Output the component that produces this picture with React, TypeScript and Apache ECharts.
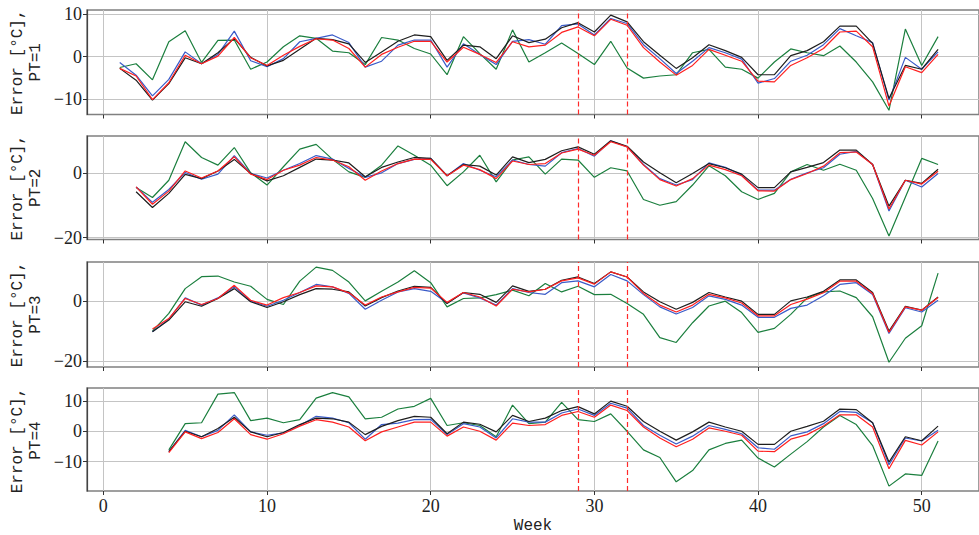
import React, { useEffect, useRef } from "react";
import * as echarts from "echarts";

// ---- data ----
const START_WEEKS = [1, 2, 3, 4];
const PT_LABELS = ["PT=1", "PT=2", "PT=3", "PT=4"];
const X_TICKS = [0, 10, 20, 30, 40, 50];
const Y_TICKS = [[-10, 0, 10], [-20, 0], [-20, 0], [-10, 0, 10]];
const Y_RANGES = [[-13.7, 11.0], [-20.6, 11.7], [-22, 13.1], [-19.6, 14.2]];
const EVENT_WEEKS = [29, 32];

const blue1 = [-1.4,-4.4,-9.3,-5.4,1.1,-1.7,0.5,6.0,-1.0,-2.4,-0.5,3.5,4.3,5.1,3.3,-2.5,-1.1,2.7,3.9,3.9,-2.5,3.0,0.5,-1.9,3.6,4.0,2.9,7.3,7.7,5.1,9.0,7.8,2.8,-0.5,-4.0,-1.1,2.1,0.9,-0.6,-6.3,-5.2,-1.1,0.3,2.8,6.6,4.9,3.3,-10.3,-0.2,-3.0,1.1];
const red1 = [-2.8,-4.6,-10.2,-6.2,0.3,-1.7,0.1,4.5,-0.3,-2.1,0.3,2.4,4.2,3.9,1.9,-2.5,0.5,2.2,3.6,3.6,-1.3,2.2,0.5,-1.4,3.5,2.3,2.7,5.7,7.0,4.9,8.8,7.4,2.1,-1.3,-4.4,-2.1,1.7,0.3,-1.1,-5.8,-6.0,-2.1,-0.3,1.9,5.8,6.0,2.3,-11.7,-2.4,-3.8,0.5];
const black1 = [-2.8,-5.6,-10.3,-6.4,-0.3,-1.7,0.9,4.3,-0.2,-2.2,-0.9,1.7,4.3,4.0,3.0,-1.4,1.1,3.6,5.1,4.7,-0.9,2.7,2.3,-0.5,4.9,3.3,4.1,6.8,8.0,5.8,9.8,8.2,3.5,0.3,-2.8,-0.3,2.8,1.4,-0.2,-4.3,-4.3,0.2,1.4,3.5,7.2,7.2,3.1,-9.9,-2.1,-3.0,1.7];
const green1 = [-2.6,-1.7,-5.5,3.5,6.1,-1.4,3.8,3.9,-3.0,-1.3,2.3,4.9,4.3,1.3,0.9,-1.9,4.5,3.9,1.9,0.6,-4.3,4.7,0.7,-3.0,6.3,-1.3,0.9,3.2,0.7,-1.9,3.6,-2.7,-5.1,-4.6,-4.3,0.9,1.7,-2.5,-3.0,-5.1,-1.3,1.8,0.9,0.2,2.5,-1.3,-6.0,-12.7,6.5,-2.1,4.7];

const blue2 = [-4.2,-9.0,-5.0,0.3,-1.8,-0.2,5.6,0,-1.4,1.0,3.1,5.6,4.5,1.6,-1.2,0.2,3.1,4.4,4.7,-0.7,3.1,1.0,-1.0,4.2,2.8,2.3,6.5,7.8,5.4,10.2,8.3,2.8,-1.6,-3.6,-1.9,3.3,1.9,-0.5,-5.2,-5.2,-1.8,0.2,1.8,6.0,6.9,2.8,-11.7,-2.1,-4.2,0];
const red2 = [-4.2,-9.6,-5.5,0.8,-1.4,0.8,5.2,-0.2,-1.9,1.0,2.6,5.0,4.2,2.1,-2.1,0.8,3.1,4.5,4.4,-0.7,2.6,1.2,-1.6,3.9,2.8,3.1,6.4,7.6,5.7,9.9,8.3,2.6,-1.9,-3.9,-1.6,2.6,1.2,-0.7,-5.4,-5.5,-1.9,0,2.3,6.5,6.7,2.8,-11.1,-2.1,-3.3,0.7];
const black2 = [-5.7,-10.6,-6.2,-0.3,-1.6,0.8,4.4,0,-2.3,-0.7,1.9,4.5,4.2,3.3,-1.0,1.9,3.6,5.0,4.7,-0.7,2.8,2.3,-0.5,5.2,3.4,4.4,7.1,8.3,6.0,10.2,8.5,3.6,0.2,-2.9,0,3.1,1.8,-0.2,-4.4,-4.4,0.5,1.9,3.4,7.3,7.3,2.8,-10.2,-2.1,-3.1,1.3];
const green2 = [-4.4,-7.5,-2.1,9.9,5.0,2.6,8.1,0.2,-3.6,2.1,7.6,9.1,4.4,0.5,-1.2,2.6,8.6,5.7,2.6,-3.8,0.5,5.7,-2.6,4.2,5.2,-0.2,4.5,4.2,-1.2,1.8,0.8,-8.1,-9.9,-8.8,-3.6,2.4,-0.7,-5.7,-8.1,-6.2,0.5,2.8,1.0,2.9,1.0,-7.8,-19.5,-7.4,4.7,2.8];

const blue3 = [-10.2,-6.0,1.1,-1.3,1.1,4.8,0,-1.7,0.3,2.9,5.6,4.8,2.6,-2.7,0.3,3.1,4.2,3.3,-0.6,2.8,1.1,-1.3,4.2,2.9,2.3,6.2,6.8,4.8,8.9,6.8,2.2,-1.9,-4.3,-2.1,1.8,0.6,-1.3,-5.4,-5.4,-2.4,-1.3,1.8,5.6,6.2,2.2,-10.8,-2.2,-3.6,0.3];
const red3 = [-9.3,-5.8,0.9,-1.1,0.9,5.3,0.3,-1.3,1.2,2.9,5.1,4.8,2.8,-1.3,1.4,3.1,4.6,4.4,-0.4,2.9,1.4,-1.6,4.0,3.1,4.0,6.8,7.8,5.7,9.8,8.1,2.6,-1.3,-3.6,-1.3,2.3,1.1,-0.6,-4.9,-4.9,-1.1,0.7,2.8,6.7,6.7,2.6,-10.4,-1.9,-3.0,1.2];
const black3 = [-10.2,-6.3,-0.2,-1.7,0.9,4.2,-0.2,-2.1,-0.2,2.2,4.2,4.0,3.1,-1.6,1.2,3.4,5.0,4.6,-0.8,2.9,2.3,-0.4,5.1,3.3,4.0,7.0,8.1,5.9,9.8,8.1,3.1,-0.2,-2.7,-0.4,2.9,1.4,0,-4.4,-4.4,0.1,1.4,3.3,7.1,7.1,2.9,-10.0,-1.7,-3.0,1.4];
const green3 = [-10.0,-4.1,4.2,8.2,8.4,6.4,5.0,0.6,-1.1,6.7,11.4,10.3,6.4,0.1,3.3,6.4,10.2,6.2,-1.9,0.9,1.1,2.2,3.7,1.8,5.9,3.1,5.0,2.2,2.3,-0.8,-4.4,-12.2,-13.8,-7.2,-1.6,0,-3.8,-10.4,-9.1,-4.4,1.1,3.1,3.4,1.2,-5.2,-20.4,-12.4,-8.2,9.4];

const blue4 = [-6.7,0.3,-1.8,0.3,5.4,-0.2,-1.3,-0.5,1.9,4.9,4.3,2.8,-2.6,2.2,2.7,3.8,3.9,-1.1,2.5,1.4,-2.2,4.1,3.0,3.0,6.0,7.3,5.2,9.2,7.6,1.9,-1.3,-4.2,-1.6,1.9,0.6,-0.8,-5.4,-5.9,-1.5,-0.2,2.5,6.5,6.2,2.8,-11.0,-2.2,-3.2,0.3];
const red4 = [-7.0,-0.2,-2.4,-0.4,4.1,-1.1,-2.6,-0.8,1.7,3.8,3.0,1.4,-3.1,-0.2,1.4,3.0,3.0,-1.6,1.4,0,-2.9,2.7,1.9,2.2,5.2,6.5,4.6,8.6,6.8,1.4,-2.2,-5.1,-2.6,1.1,0,-1.3,-6.5,-6.7,-2.6,-1.1,1.7,5.4,5.4,1.4,-12.3,-3.0,-4.5,-0.2];
const black4 = [-6.7,0,-1.8,0.9,4.6,-0.2,-1.8,-0.4,2.2,4.3,4.1,3.0,-1.1,1.6,3.5,4.9,4.6,-0.8,3.0,2.3,-0.2,5.2,3.2,4.3,6.8,8.1,5.7,9.9,8.2,3.2,0,-2.9,-0.2,3.0,1.4,0,-4.3,-4.3,0,1.6,3.3,7.3,7.1,2.8,-10.1,-1.8,-3.1,1.7];
const green4 = [-6.1,2.5,2.8,12.2,12.7,3.5,4.3,2.8,3.8,10.9,12.7,11.3,4.1,4.6,7.3,8.2,10.8,1.9,2.8,1.9,-1.8,8.6,2.5,3.0,9.5,3.8,3.2,5.7,0,-6.1,-8.6,-16.6,-12.9,-6.1,-4.0,-2.9,-8.8,-11.7,-7.5,-3.4,1.4,5.2,2.2,-4.7,-18.0,-14.0,-14.5,-3.2];

const PANELS = [
  { green: green1, blue: blue1, black: black1, red: red1 },
  { green: green2, blue: blue2, black: black2, red: red2 },
  { green: green3, blue: blue3, black: black3, red: red3 },
  { green: green4, blue: blue4, black: black4, red: red4 },
];

const COLORS: Record<string, string> = {
  green: "#1b7f3e",
  blue: "#3a5bc8",
  black: "#1e1e1e",
  red: "#ff1f1f",
};

const GRID_TOPS = [10, 136, 262, 388];
const GRID_HEIGHTS = [104.5, 103.5, 105, 105];
const SERIF = "Liberation Serif";
const MONO = "Liberation Mono";

const fmt = (v: number) => String(v).replace("-", "\u2212");

export default function App() {
  const ref = useRef<HTMLDivElement>(null);
  useEffect(() => {
    if (!ref.current) return;
    const chart = echarts.init(ref.current, undefined, { renderer: "svg" });

    const grid = GRID_TOPS.map((top, i) => ({
      left: 87,
      top,
      width: 895,
      height: GRID_HEIGHTS[i],
      show: true,
      borderColor: "#808080",
      borderWidth: 1.5,
      backgroundColor: "#fff",
    }));

    const xAxis = GRID_TOPS.map((_, i) => ({
      type: "value",
      gridIndex: i,
      min: -1,
      max: 53.5,
      splitNumber: 5,
      axisLine: { show: false, onZero: false },
      axisTick: {
        show: true,
        length: 4,
        customValues: X_TICKS,
        lineStyle: { color: "#333", width: 1 },
      },
      axisLabel: {
        show: i === 3,
        customValues: X_TICKS,
        margin: 6,
        fontFamily: SERIF,
        fontSize: 18,
        color: "#222",
        formatter: fmt,
      },
      splitLine: { show: true, lineStyle: { color: "#c4c4c4", width: 1 } },
      name: i === 3 ? "Week" : "",
      nameLocation: "middle",
      nameGap: 27,
      nameTextStyle: { fontFamily: MONO, fontSize: 16, color: "#222" },
    }));

    const yAxis = GRID_TOPS.map((_, i) => ({
      type: "value",
      gridIndex: i,
      min: Y_RANGES[i][0],
      max: Y_RANGES[i][1],
      splitNumber: Y_TICKS[i].length === 2 ? 2 : 3,
      axisLine: { show: true, onZero: false, lineStyle: { color: "#444", width: 1.2 } },
      axisTick: {
        show: true,
        length: 4,
        customValues: Y_TICKS[i],
        lineStyle: { color: "#333", width: 1 },
      },
      axisLabel: {
        customValues: Y_TICKS[i],
        margin: 5,
        fontFamily: SERIF,
        fontSize: 18,
        color: "#222",
        formatter: fmt,
      },
      splitLine: { show: true, lineStyle: { color: "#c4c4c4", width: 1 } },
    }));

    const series: any[] = [];
    PANELS.forEach((panel, i) => {
      const start = START_WEEKS[i];
      (["green", "blue", "black", "red"] as const).forEach((key) => {
        series.push({
          type: "line",
          name: `${key}-${i}`,
          xAxisIndex: i,
          yAxisIndex: i,
          data: panel[key].map((v, k) => [start + k, v]),
          showSymbol: false,
          symbol: "none",
          lineStyle: { color: COLORS[key], width: 1.2 },
          z: 3,
        });
      });
      series.push({
        type: "line",
        xAxisIndex: i,
        yAxisIndex: i,
        data: [],
        z: 4,
        markLine: {
          silent: true,
          symbol: ["none", "none"],
          label: { show: false },
          lineStyle: { color: "#ff2a2a", type: [5, 3], width: 1.2 },
          data: EVENT_WEEKS.map((w) => ({ xAxis: w })),
        },
      });
    });

    const graphic = GRID_TOPS.map((top, i) => ({
      type: "text",
      x: 27,
      y: top + GRID_HEIGHTS[i] / 2,
      rotation: Math.PI / 2,
      style: {
        text: `Error [°C],\n${PT_LABELS[i]}`,
        font: `16px "${MONO}"`,
        fill: "#222",
        align: "center",
        verticalAlign: "middle",
        lineHeight: 18,
      },
    }));

    chart.setOption({
      animation: false,
      backgroundColor: "#fff",
      grid,
      xAxis,
      yAxis,
      series,
      graphic,
    });
    return () => chart.dispose();
  }, []);

  return (
    <div
      ref={ref}
      style={{ position: "fixed", left: 0, top: 0, width: 979, height: 535 }}
    />
  );
}
